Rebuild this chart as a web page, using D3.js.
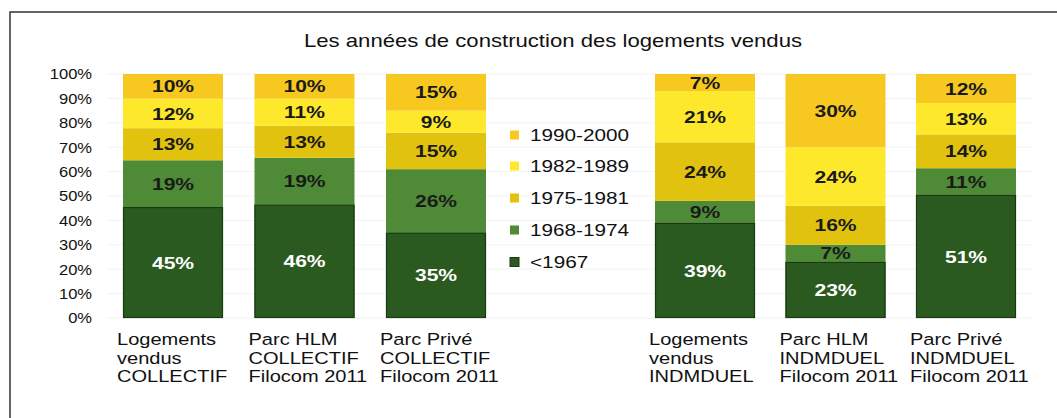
<!DOCTYPE html>
<html><head><meta charset="utf-8">
<script src="https://cdn.jsdelivr.net/npm/d3@7"></script>
<style>
html,body{margin:0;padding:0;background:#fff;}
svg{display:block;font-family:"Liberation Sans",Arial,sans-serif;}
</style></head>
<body><svg id="c" width="1057" height="418"></svg>
<script>
const title = "Les années de construction des logements vendus";
const categoriesLeft = [
  ["Logements","vendus","COLLECTIF"],
  ["Parc HLM","COLLECTIF","Filocom 2011"],
  ["Parc Privé","COLLECTIF","Filocom 2011"]
];
const categoriesRight = [
  ["Logements","vendus","INDMDUEL"],
  ["Parc HLM","INDMDUEL","Filocom 2011"],
  ["Parc Privé","INDMDUEL","Filocom 2011"]
];
const seriesNames = ["<1967","1968-1974","1975-1981","1982-1989","1990-2000"];
const before1967 = [45,46,35,39,23,51];
const s1968_1974 = [19,19,26,9,7,11];
const s1975_1981 = [13,13,15,24,16,14];
const s1982_1989 = [12,11,9,21,24,13];
const s1990_2000 = [10,10,15,7,30,12];
const yTicks = [0,10,20,30,40,50,60,70,80,90,100];
const colors = ["#2b5a20","#4f8a36","#e0c20f","#fde82c","#f7c820"];

const allCats = categoriesLeft.concat(categoriesRight).map(d=>d.join(" "));
const seriesVals = [before1967,s1968_1974,s1975_1981,s1982_1989,s1990_2000];
const rows = allCats.map((c,i)=>{const r={cat:c}; seriesNames.forEach((s,j)=>r[s]=seriesVals[j][i]); return r;});
const stacked = d3.stack().keys(seriesNames).offset(d3.stackOffsetExpand)(rows);

const svg = d3.select("#c");

// frame
svg.append("path").attr("d","M10,418 V12 H1057").attr("fill","none").attr("stroke","#333").attr("stroke-width",1.5);

const y = d3.scaleLinear().domain([0,1]).range([318,74]);
const xL = d3.scaleBand().domain(allCats.slice(0,3)).range([123,486]).paddingInner(0.2395).paddingOuter(0);
const xR = d3.scaleBand().domain(allCats.slice(3)).range([655,1016]).paddingInner(0.2337).paddingOuter(0);
const xPos = c => xL.domain().includes(c) ? xL(c) : xR(c);
const bw = xL.bandwidth();

function stext(sel, x, yy, txt, sx){
  return sel.append("text").attr("transform",`translate(${x},${yy}) scale(${sx||1.18},1)`).text(txt);
}

// gridlines
svg.append("g").selectAll("line").data(yTicks).join("line")
  .attr("x1",107).attr("x2",1032).attr("y1",d=>y(d/100)).attr("y2",d=>y(d/100))
  .attr("stroke","#f2f2f2").attr("stroke-width",1);

// y axis labels
const yAxis = d3.axisLeft(y).tickValues(yTicks.map(d=>d/100)).tickFormat(d=>Math.round(d*100)+"%").tickSize(0);
const ga = svg.append("g").attr("transform","translate(92,0)").call(yAxis);
ga.select(".domain").remove();
ga.selectAll(".tick text").attr("font-size",14).attr("fill","#111").attr("font-family","Liberation Sans, Arial, sans-serif")
  .attr("x",0).attr("dy","0.35em").attr("transform","scale(1.18,1)");

// bars
const layers = svg.append("g").selectAll("g").data(stacked).join("g").attr("fill",(d,i)=>colors[i]);
layers.selectAll("rect").data(d=>d).join("rect")
  .attr("x",d=>xPos(d.data.cat)).attr("width",bw)
  .attr("y",d=>y(d[1])).attr("height",d=>y(d[0])-y(d[1]));
// dark outline for <1967
svg.append("g").selectAll("rect").data(stacked[0]).join("rect")
  .attr("x",d=>xPos(d.data.cat)+0.5).attr("width",bw-1)
  .attr("y",d=>y(d[1])+0.5).attr("height",d=>y(d[0])-y(d[1])-1)
  .attr("fill","none").attr("stroke","#173a10").attr("stroke-width",1.2);

// value labels
stacked.forEach((layer,i)=>{
  const g = svg.append("g");
  layer.forEach((d,j)=>{
    const cx = xPos(d.data.cat)+bw/2;
    const cy = (y(d[0])+y(d[1]))/2;
    stext(g,cx,cy,seriesVals[i][j]+"%",1.24)
      .attr("text-anchor","middle").attr("dy","0.36em")
      .attr("font-size",17).attr("font-weight","bold")
      .attr("fill", i===0 ? "#fff" : "#1a1a1a");
  });
});

// category labels
const catLines = categoriesLeft.concat(categoriesRight);
const gc = svg.append("g");
catLines.forEach((lines,i)=>{
  const x0 = xPos(allCats[i]);
  lines.forEach((t,k)=>{
    stext(gc,x0-6,345+k*18.5,t,1.2).attr("font-size",16.7).attr("fill","#111");
  });
});

// legend
const legendY = [262,230,198,166,135];
const gl = svg.append("g");
seriesNames.forEach((s,i)=>{
  gl.append("rect").attr("x",510).attr("y",legendY[i]-4.5).attr("width",9).attr("height",9)
    .attr("fill",colors[i]).attr("stroke", i===0 ? "#173a10" : "none");
  stext(gl,530,legendY[i],s,1.22).attr("dy","0.36em").attr("font-size",17).attr("fill","#111");
});

// title
stext(svg,553,47,title,1.265).attr("text-anchor","middle").attr("font-size",17.5).attr("fill","#111");
</script></body></html>
